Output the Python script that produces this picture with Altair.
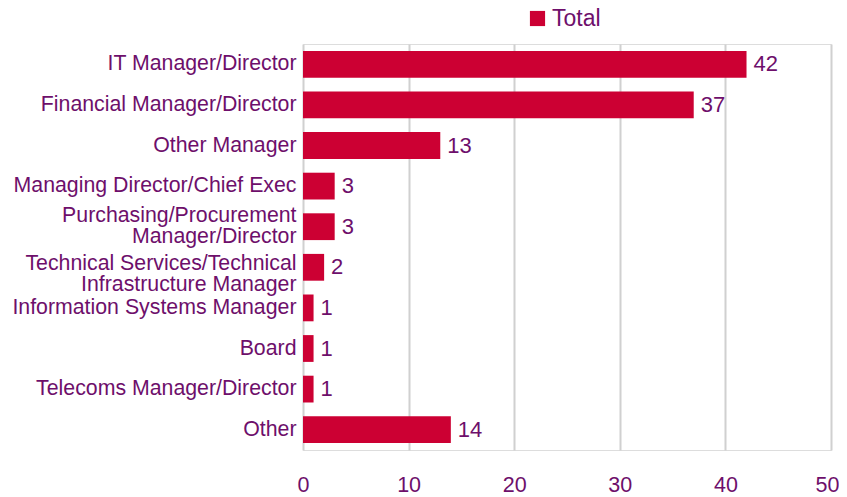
import altair as alt
import pandas as pd

categories = [
    "IT Manager/Director",
    "Financial Manager/Director",
    "Other Manager",
    "Managing Director/Chief Exec",
    "Purchasing/Procurement|Manager/Director",
    "Technical Services/Technical|Infrastructure Manager",
    "Information Systems Manager",
    "Board",
    "Telecoms Manager/Director",
    "Other",
]
values = [42, 37, 13, 3, 3, 2, 1, 1, 1, 14]
series = ["Total"] * len(values)

df = pd.DataFrame({"role": categories, "value": values, "series": series})

PURPLE = "#6E0F6B"
RED = "#CC0033"
FONT = "Liberation Sans"

base = alt.Chart(df)

bars = base.mark_bar(color=RED).encode(
    y=alt.Y(
        "role:N",
        sort=categories,
        scale=alt.Scale(paddingInner=0.34, paddingOuter=0.17),
        axis=alt.Axis(
            title=None,
            labelExpr="split(datum.label, '|')",
            labelFontSize=21.3,
            labelColor=PURPLE,
            labelFont=FONT,
            labelLineHeight=21,
            labelPadding=7,
            labelOffset={
                "condition": [
                    {"test": "indexof(datum.label, 'Purchasing') >= 0", "value": -11},
                    {"test": "indexof(datum.label, 'Technical') >= 0", "value": -3},
                ],
                "value": 0,
            },
            ticks=False,
            domain=False,
            labelLimit=400,
        ),
    ),
    x=alt.X(
        "value:Q",
        scale=alt.Scale(domain=[0, 50]),
        axis=alt.Axis(
            title=None,
            values=[0, 10, 20, 30, 40, 50],
            labelFontSize=21.5,
            labelColor=PURPLE,
            labelFont=FONT,
            labelPadding=24,
            labelFlush=False,
            labelOffset={
                "condition": {"test": "datum.value >= 50", "value": -4},
                "value": 0,
            },
            ticks=False,
            domain=False,
            grid=True,
            gridColor="#D0D0D0",
            gridWidth=2,
        ),
    ),
    color=alt.Color(
        "series:N",
        scale=alt.Scale(range=[RED]),
        legend=alt.Legend(
            title=None,
            orient="none",
            legendX=223,
            legendY=-37,
            symbolType="square",
            symbolSize=230,
            symbolStrokeWidth=0,
            labelFontSize=23,
            labelOffset=3,
            labelColor=PURPLE,
            labelFont=FONT,
        ),
    ),
)

labels = base.mark_text(
    align="left", baseline="middle", dx=7, fontSize=22, color=PURPLE, font=FONT
).encode(
    y=alt.Y("role:N", sort=categories),
    x=alt.X("value:Q"),
    text=alt.Text("value:Q"),
)

chart = (
    alt.layer(bars, labels)
    .properties(
        width=528,
        height=406,
        autosize=alt.AutoSizeParams(type="none"),
        padding={"left": 295, "top": 36, "right": 8, "bottom": 47},
    )
    .configure_view(stroke=None)
    .configure(background="white")
)

chart.save("out.html", embed_options={"renderer": "svg", "actions": False})
